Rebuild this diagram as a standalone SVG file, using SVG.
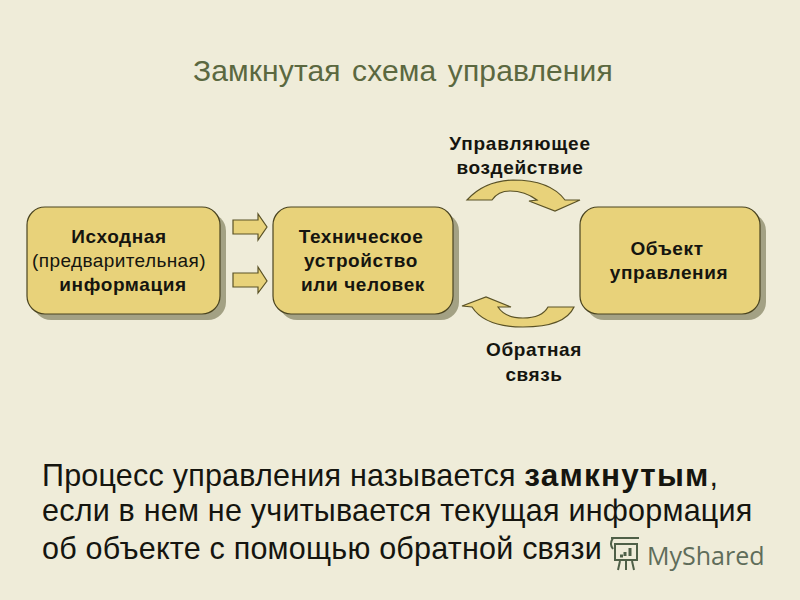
<svg xmlns="http://www.w3.org/2000/svg" width="800" height="600" viewBox="0 0 800 600">
<style>
.t{font-family:"Liberation Sans",Arial,sans-serif;fill:#15150f}
.b{font-size:19px;font-weight:bold;text-anchor:middle;letter-spacing:.6px}
.r{font-size:19px;text-anchor:middle;letter-spacing:.4px}
.p{font-size:30.5px;letter-spacing:.22px}
.box{fill:#e8d27a;stroke:#4a4420;stroke-width:1.2}
.sh{fill:#a3a184}
.ar{fill:#e8d27a;stroke:#5a5226;stroke-width:1.2;stroke-linejoin:miter}
</style>
<rect width="800" height="600" fill="#efecd9"/>
<text id="title" x="193" y="81" font-family="Liberation Sans,Arial,sans-serif" font-size="30" fill="#5b6840" word-spacing="3" letter-spacing=".13">Замкнутая схема управления</text>
<g id="node-source">
<rect class="sh" x="33" y="213" width="193" height="107" rx="18"/>
<rect class="box" x="27" y="207" width="193" height="107" rx="18"/>
<text class="t b" x="119" y="243">Исходная</text>
<text class="t r" x="119" y="267">(предварительная)</text>
<text class="t b" x="123" y="291">информация</text>
</g>
<g id="node-device">
<rect class="sh" x="279" y="213" width="180" height="107" rx="18"/>
<rect class="box" x="273" y="207" width="180" height="107" rx="18"/>
<text class="t b" x="361" y="243">Техническое</text>
<text class="t b" x="361" y="267">устройство</text>
<text class="t b" x="363" y="291">или человек</text>
</g>
<g id="node-object">
<rect class="sh" x="586" y="213" width="180" height="107" rx="18"/>
<rect class="box" x="580" y="207" width="180" height="107" rx="18"/>
<text class="t b" x="667" y="255">Объект</text>
<text class="t b" x="669" y="279">управления</text>
</g>
<g id="connectors">
<polygon class="ar" points="233,220 258,220 258,214 267,227 258,240 258,234 233,234"/>
<polygon class="ar" points="233,273 258,273 258,267 267,281 258,293 258,287 233,287"/>
<path class="ar" d="M467,200 Q484,181 513,180 Q550,180 565,200 L580,200 L555,211 L529,201 L537,200 Q525,191 510,191 Q498,191 492,200 Z"/>
<path class="ar" d="M462,306 L486,297 L511,307 L498,307 Q505,318 523,318 Q542,318 548,307 L574,307 Q565,327 523,327 Q485,327 472,307 Z"/>
</g>
<g id="labels">
<text class="t b" x="520" y="150" style="letter-spacing:.8px">Управляющее</text>
<text class="t b" x="520" y="174">воздействие</text>
<text class="t b" x="534" y="356">Обратная</text>
<text class="t b" x="534" y="381">связь</text>
</g>
<g id="body">
<text class="t p" x="42" y="486">Процесс управления называется <tspan font-weight="bold" font-size="31.5" letter-spacing="1.2">замкнутым</tspan>,</text>
<text class="t p" x="42" y="521">если в нем не учитывается текущая информация</text>
<text class="t p" x="42" y="559">об объекте с помощью обратной связи</text>
</g>
<g id="watermark">
<path d="M611,538 H639 M615,544 H637 V560 H615 Z M613,538 Q609,544 613,549 M620,561 L618,570 M626,561 V570 M632,561 L634,570" fill="none" stroke="#4f6048" stroke-width="2"/>
<path d="M620,556 H623 M625,556 V552 M630,556 V548" fill="none" stroke="#4f6048" stroke-width="3"/>
<text x="647" y="565" font-family="Open Sans,Noto Sans,sans-serif" font-size="25" fill="#5f6d5a">MyShared</text>
</g>
</svg>
